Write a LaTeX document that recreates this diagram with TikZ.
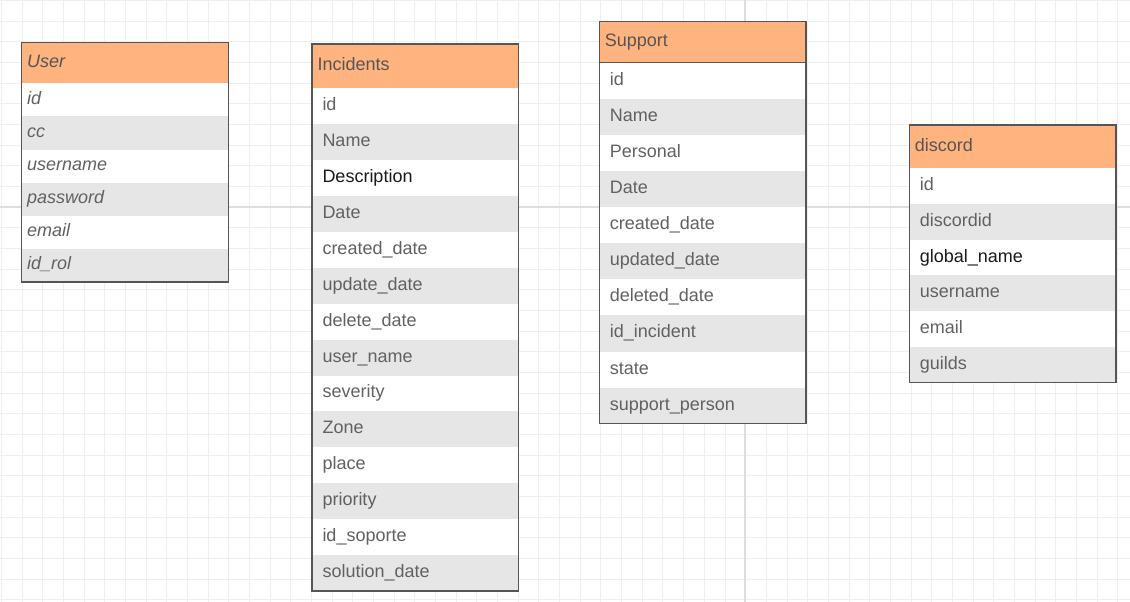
\documentclass[tikz,border=0pt]{standalone}
\usepackage{fontspec}
\setmainfont{Liberation Sans}
\usetikzlibrary{positioning,fit}
\definecolor{gridgray}{HTML}{EFEFEF}
\definecolor{gridmajor}{HTML}{DEDEDE}
\definecolor{tableline}{HTML}{555555}
\definecolor{headfill}{HTML}{FFB480}
\definecolor{headtext}{HTML}{555555}
\definecolor{fieldtext}{HTML}{616161}
\definecolor{darktext}{HTML}{1A1A1A}
\definecolor{rowgray}{HTML}{E6E6E6}
\newcommand\fieldfont{\fontsize{18pt}{21pt}\selectfont}
\tikzset{
  gridminor/.style={draw=gridgray, line width=0.9pt},
  gridstrong/.style={draw=gridmajor, line width=1.4pt},
  cellbase/.style={anchor=north west, minimum width=206.7pt, outer sep=0pt,
    inner ysep=0pt, align=left, text height=13pt, text depth=4pt, font=\fieldfont},
  tablehead/.style={cellbase, draw=tableline, line width=1.2pt, fill=headfill,
    text=headtext, inner xsep=5.5pt, text width=195.7pt},
  fieldrow/.style={cellbase, fill=white, text=fieldtext, inner xsep=10.5pt, text width=185.7pt},
  altrow/.style={fieldrow, fill=rowgray},
  userfield/.style={inner xsep=5.5pt, text width=195.7pt, font=\fieldfont\itshape},
  keyfield/.style={text=darktext},
  tableframe/.style={draw=tableline, line width=1.2pt, inner sep=0pt}
}

\begin{document}
\begin{tikzpicture}[x=1pt, y=-1pt, node distance=0pt]
  \useasboundingbox[fill=white] (0,0) rectangle (1130,602);

  % background grid
  \foreach \gx in {0,...,54}
    \draw[gridminor] ({1.5+\gx*20.67},0) -- ++(0,602);
  \foreach \gy in {0,...,29}
    \draw[gridminor] (0,{0.3+\gy*20.67}) -- ++(1130,0);
  \draw[gridstrong] (745,0) -- (745,602);
  \draw[gridstrong] (0,207) -- (1130,207);

  % User
  \begin{scope}[every node/.append style={minimum height=33.1pt}]
    \node[tablehead, minimum height=40.6pt, font=\fieldfont\itshape] (userhead) at (21.7,42.7) {User};
    \node[fieldrow, userfield, below=of userhead] (userid) {id};
    \node[altrow, userfield, below=of userid] (usercc) {cc};
    \node[fieldrow, userfield, below=of usercc] (username) {username};
    \node[altrow, userfield, below=of username] (userpass) {password};
    \node[fieldrow, userfield, below=of userpass] (usermail) {email};
    \node[altrow, userfield, below=of usermail] (userrol) {id\_rol};
    \node[tableframe, fit=(userhead)(userrol)] (userbox) {};
  \end{scope}

  % Incidents
  \begin{scope}[every node/.append style={minimum height=35.9pt}]
    \node[tablehead, minimum height=44.3pt] (inchead) at (312,44) {Incidents};
    \node[fieldrow, below=of inchead] (incid) {id};
    \node[altrow, below=of incid] (incname) {Name};
    \node[fieldrow, keyfield, below=of incname] (incdesc) {Description};
    \node[altrow, below=of incdesc] (incdate) {Date};
    \node[fieldrow, below=of incdate] (inccreated) {created\_date};
    \node[altrow, below=of inccreated] (incupdate) {update\_date};
    \node[fieldrow, below=of incupdate] (incdelete) {delete\_date};
    \node[altrow, below=of incdelete] (incuser) {user\_name};
    \node[fieldrow, below=of incuser] (incsev) {severity};
    \node[altrow, below=of incsev] (inczone) {Zone};
    \node[fieldrow, below=of inczone] (incplace) {place};
    \node[altrow, below=of incplace] (incprio) {priority};
    \node[fieldrow, below=of incprio] (incsop) {id\_soporte};
    \node[altrow, below=of incsop] (incsol) {solution\_date};
    \node[tableframe, fit=(inchead)(incsol)] (incbox) {};
  \end{scope}

  % Support
  \begin{scope}[every node/.append style={minimum height=36.1pt}]
    \node[tablehead, minimum height=41pt] (suphead) at (599.3,21.7) {Support};
    \node[fieldrow, below=of suphead] (supid) {id};
    \node[altrow, below=of supid] (supname) {Name};
    \node[fieldrow, below=of supname] (suppers) {Personal};
    \node[altrow, below=of suppers] (supdate) {Date};
    \node[fieldrow, below=of supdate] (supcreated) {created\_date};
    \node[altrow, below=of supcreated] (supupdated) {updated\_date};
    \node[fieldrow, below=of supupdated] (supdeleted) {deleted\_date};
    \node[altrow, below=of supdeleted] (supinc) {id\_incident};
    \node[fieldrow, below=of supinc] (supstate) {state};
    \node[altrow, below=of supstate] (supperson) {support\_person};
    \node[tableframe, fit=(suphead)(supperson)] (supbox) {};
  \end{scope}

  % discord
  \begin{scope}[every node/.append style={minimum height=35.7pt}]
    \node[tablehead, minimum height=43.3pt] (dischead) at (909.3,125) {discord};
    \node[fieldrow, below=of dischead] (discid) {id};
    \node[altrow, below=of discid] (discdid) {discordid};
    \node[fieldrow, keyfield, below=of discdid] (discglobal) {global\_name};
    \node[altrow, below=of discglobal] (discuser) {username};
    \node[fieldrow, below=of discuser] (discmail) {email};
    \node[altrow, below=of discmail] (discguilds) {guilds};
    \node[tableframe, fit=(dischead)(discguilds)] (discbox) {};
  \end{scope}
\end{tikzpicture}
\end{document}
